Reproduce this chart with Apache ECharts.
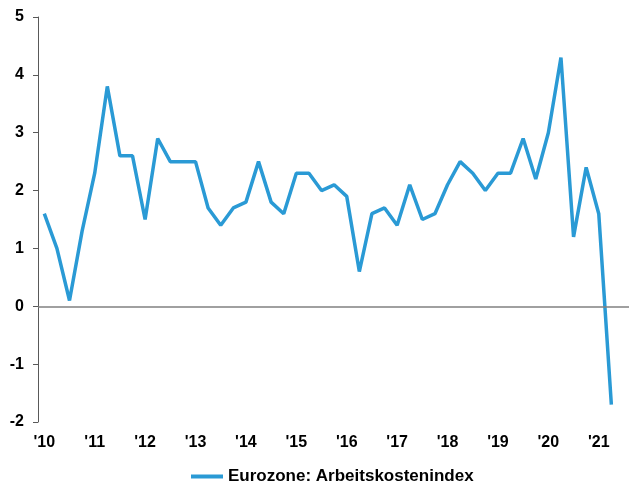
<!DOCTYPE html>
<html>
<head>
<meta charset="utf-8">
<script src="https://cdn.jsdelivr.net/npm/echarts@6/dist/echarts.min.js"></script>
<style>
  html, body { margin: 0; padding: 0; background: #fff; }
  #chart { width: 629px; height: 487px; }
</style>
</head>
<body>
<div id="chart"></div>
<script>
// Quarterly labour cost index, euro area, % y/y, 2010 Q1 – 2021 Q2
const quarters = [
  '2010Q1','2010Q2','2010Q3','2010Q4','2011Q1','2011Q2','2011Q3','2011Q4',
  '2012Q1','2012Q2','2012Q3','2012Q4','2013Q1','2013Q2','2013Q3','2013Q4',
  '2014Q1','2014Q2','2014Q3','2014Q4','2015Q1','2015Q2','2015Q3','2015Q4',
  '2016Q1','2016Q2','2016Q3','2016Q4','2017Q1','2017Q2','2017Q3','2017Q4',
  '2018Q1','2018Q2','2018Q3','2018Q4','2019Q1','2019Q2','2019Q3','2019Q4',
  '2020Q1','2020Q2','2020Q3','2020Q4','2021Q1','2021Q2'
];
const laborCostIndex = [
  1.6, 1.0, 0.1, 1.3, 2.3, 3.8, 2.6, 2.6,
  1.5, 2.9, 2.5, 2.5, 2.5, 1.7, 1.4, 1.7,
  1.8, 2.5, 1.8, 1.6, 2.3, 2.3, 2.0, 2.1,
  1.9, 0.6, 1.6, 1.7, 1.4, 2.1, 1.5, 1.6,
  2.1, 2.5, 2.3, 2.0, 2.3, 2.3, 2.9, 2.2,
  3.0, 4.3, 1.2, 2.4, 1.6, -1.7
];
const yearLabels = ["'10","'11","'12","'13","'14","'15","'16","'17","'18","'19","'20","'21"];
const seriesName = 'Eurozone: Arbeitskostenindex';

const FONT = '"Liberation Sans", Arial, sans-serif';
const BLUE = '#2a9ad5';

// each year label sits on that year's first quarter
const yearTickPositions = yearLabels.map((_, i) => i * 4);

const chart = echarts.init(document.getElementById('chart'));
chart.setOption({
  animation: false,
  grid: { left: 38, right: 0, top: 17, bottom: 65 },
  legend: {
    data: [seriesName],
    left: 186,
    top: 463,
    icon: 'rect',
    itemWidth: 32,
    itemHeight: 4,
    textStyle: { fontFamily: FONT, fontWeight: 'bold', fontSize: 17, color: '#000' }
  },
  xAxis: {
    type: 'value',
    min: -0.5,
    max: 46.4,
    axisLine: { show: false },
    axisTick: { show: false },
    splitLine: { show: false },
    axisLabel: {
      customValues: yearTickPositions,
      formatter: v => yearLabels[Math.round(v / 4)],
      margin: 13,
      fontFamily: FONT,
      fontWeight: 'bold',
      fontSize: 16,
      color: '#000'
    }
  },
  yAxis: {
    type: 'value',
    min: -2,
    max: 5,
    interval: 1,
    axisLine: { show: true, onZero: false, lineStyle: { color: '#595959', width: 1 } },
    axisTick: { show: true, length: 5, lineStyle: { color: '#595959' } },
    splitLine: { show: false },
    axisLabel: {
      margin: 14,
      fontFamily: FONT,
      fontWeight: 'bold',
      fontSize: 16,
      color: '#000'
    }
  },
  series: [{
    name: seriesName,
    type: 'line',
    data: laborCostIndex.map((v, i) => [i, v]),
    symbol: 'none',
    lineStyle: { color: BLUE, width: 3.5 },
    itemStyle: { color: BLUE },
    markLine: {
      silent: true,
      symbol: 'none',
      label: { show: false },
      lineStyle: { color: '#808080', width: 1.5, type: 'solid' },
      data: [{ yAxis: 0 }]
    },
    z: 3
  }]
});
</script>
</body>
</html>
